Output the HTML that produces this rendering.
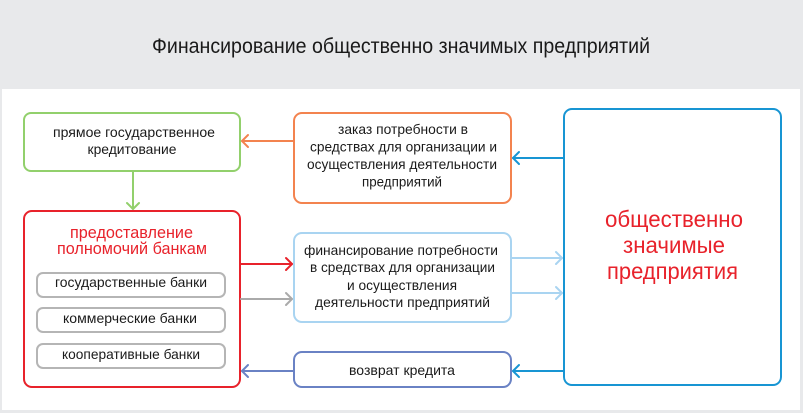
<!DOCTYPE html>
<html>
<head>
<meta charset="utf-8">
<style>
html,body{margin:0;padding:0;background:#e8e9eb;}
svg{display:block;}
text{font-family:"Liberation Sans","DejaVu Sans",sans-serif;}
</style>
</head>
<body>
<svg width="803" height="413" viewBox="0 0 803 413" xmlns="http://www.w3.org/2000/svg">
  <rect x="0" y="0" width="803" height="413" fill="#e8e9eb"/>
  <rect x="2" y="89" width="798" height="321" fill="#ffffff"/>

  <!-- title -->
  <text x="401" y="53" font-size="21" fill="#1a1a1a" text-anchor="middle" textLength="498" lengthAdjust="spacingAndGlyphs">Финансирование общественно значимых предприятий</text>

  <!-- boxes -->
  <rect x="24" y="113" width="216" height="58" rx="7" fill="#fff" stroke="#92d06c" stroke-width="2"/>
  <rect x="24" y="211" width="216" height="176" rx="8" fill="#fff" stroke="#e8222b" stroke-width="2"/>
  <rect x="37" y="273" width="188" height="24" rx="6" fill="#fff" stroke="#b5b5b5" stroke-width="2"/>
  <rect x="37" y="308" width="188" height="24" rx="6" fill="#fff" stroke="#b5b5b5" stroke-width="2"/>
  <rect x="37" y="344" width="188" height="24" rx="6" fill="#fff" stroke="#b5b5b5" stroke-width="2"/>
  <rect x="294" y="113" width="217" height="90" rx="8" fill="#fff" stroke="#f3834f" stroke-width="2"/>
  <rect x="294" y="233" width="217" height="89" rx="8" fill="#fff" stroke="#a9d4f1" stroke-width="2"/>
  <rect x="294" y="352" width="217" height="35" rx="8" fill="#fff" stroke="#6a82c4" stroke-width="2"/>
  <rect x="564" y="109" width="217" height="276" rx="8" fill="#fff" stroke="#1895d3" stroke-width="2"/>

  <!-- connectors -->
  <g fill="none" stroke-width="2" stroke-linecap="round" stroke-linejoin="round">
    <line x1="133" y1="172" x2="133" y2="209" stroke="#92d06c"/>
    <polyline points="127,203 133,209 139,203" stroke="#92d06c"/>
    <line x1="293" y1="141" x2="242" y2="141" stroke="#f3834f"/>
    <polyline points="248,135 242,141 248,147" stroke="#f3834f"/>
    <line x1="564" y1="158" x2="513" y2="158" stroke="#1895d3"/>
    <polyline points="519,152 513,158 519,164" stroke="#1895d3"/>
    <line x1="241" y1="264" x2="292" y2="264" stroke="#e8222b"/>
    <polyline points="286,258 292,264 286,270" stroke="#e8222b"/>
    <line x1="241" y1="299" x2="292" y2="299" stroke="#aaaaaa"/>
    <polyline points="286,293 292,299 286,305" stroke="#aaaaaa"/>
    <line x1="512" y1="258" x2="562" y2="258" stroke="#a9d4f1"/>
    <polyline points="556,252 562,258 556,264" stroke="#a9d4f1"/>
    <line x1="512" y1="293" x2="562" y2="293" stroke="#a9d4f1"/>
    <polyline points="556,287 562,293 556,299" stroke="#a9d4f1"/>
    <line x1="564" y1="371" x2="513" y2="371" stroke="#1895d3"/>
    <polyline points="519,365 513,371 519,377" stroke="#1895d3"/>
    <line x1="293" y1="371" x2="242" y2="371" stroke="#6a82c4"/>
    <polyline points="248,365 242,371 248,377" stroke="#6a82c4"/>
  </g>

  <!-- texts -->
  <g fill="#1a1a1a" font-size="14" text-anchor="middle">
    <text x="134" y="137" textLength="162" lengthAdjust="spacingAndGlyphs">прямое государственное</text>
    <text x="132" y="154" textLength="89" lengthAdjust="spacingAndGlyphs">кредитование</text>

    <text x="131" y="287" textLength="152" lengthAdjust="spacingAndGlyphs">государственные банки</text>
    <text x="130" y="323" textLength="134" lengthAdjust="spacingAndGlyphs">коммерческие банки</text>
    <text x="131" y="359" textLength="138" lengthAdjust="spacingAndGlyphs">кооперативные банки</text>

    <text x="403" y="134" textLength="130" lengthAdjust="spacingAndGlyphs">заказ потребности в</text>
    <text x="403.5" y="151.5" textLength="187" lengthAdjust="spacingAndGlyphs">средствах для организации и</text>
    <text x="402" y="169" textLength="190" lengthAdjust="spacingAndGlyphs">осуществления деятельности</text>
    <text x="402" y="186.5" textLength="80" lengthAdjust="spacingAndGlyphs">предприятий</text>

    <text x="401" y="255" textLength="194" lengthAdjust="spacingAndGlyphs">финансирование потребности</text>
    <text x="402.5" y="272" textLength="185" lengthAdjust="spacingAndGlyphs">в средствах для организации</text>
    <text x="402" y="290" textLength="110" lengthAdjust="spacingAndGlyphs">и осуществления</text>
    <text x="402.5" y="307" textLength="175" lengthAdjust="spacingAndGlyphs">деятельности предприятий</text>

    <text x="402" y="375" textLength="106" lengthAdjust="spacingAndGlyphs">возврат кредита</text>
  </g>

  <g fill="#e8222b" text-anchor="middle">
    <text x="131.5" y="238" font-size="17" textLength="123" lengthAdjust="spacingAndGlyphs">предоставление</text>
    <text x="132" y="254" font-size="17" textLength="150" lengthAdjust="spacingAndGlyphs">полномочий банкам</text>

    <text x="674" y="227" font-size="23" textLength="138" lengthAdjust="spacingAndGlyphs">общественно</text>
    <text x="674" y="253" font-size="23" textLength="102" lengthAdjust="spacingAndGlyphs">значимые</text>
    <text x="672.5" y="279" font-size="23" textLength="131" lengthAdjust="spacingAndGlyphs">предприятия</text>
  </g>
</svg>
</body>
</html>
